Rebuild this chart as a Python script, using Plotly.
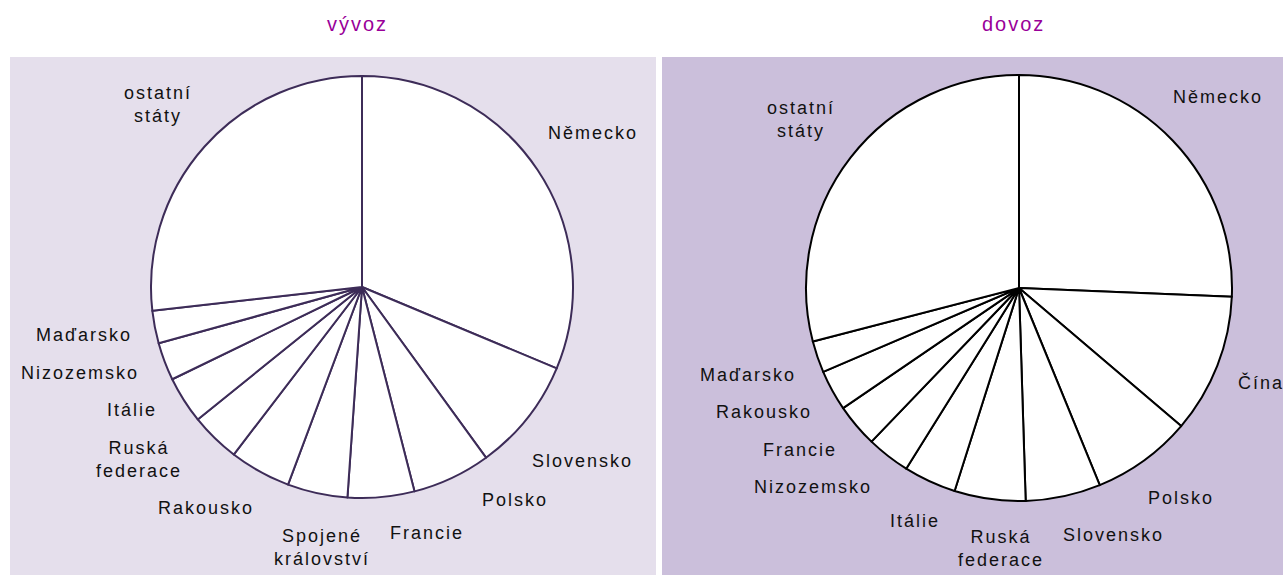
import math
import plotly.graph_objects as go

# ---- data ----
export_labels = ["Německo", "Slovensko", "Polsko", "Francie", "Spojené<br>království",
                 "Rakousko", "Ruská<br>federace", "Itálie", "Nizozemsko", "Maďarsko",
                 "ostatní<br>státy"]
export_values = [31.3, 8.7, 6.0, 5.1, 4.6, 4.7, 3.8, 3.6, 2.9, 2.5, 26.8]

import_labels = ["Německo", "Čína", "Polsko", "Slovensko", "Ruská<br>federace", "Itálie",
                 "Nizozemsko", "Francie", "Rakousko", "Maďarsko", "ostatní<br>státy"]
import_values = [25.7, 10.6, 7.6, 5.7, 5.4, 4.0, 3.3, 3.3, 3.1, 2.4, 29.1]

titles = ["vývoz", "dovoz"]

# ---- layout constants ----
W, H = 1283, 575
FONT = "Arial, Liberation Sans, sans-serif"
LABEL_SIZE = 18
SPACING = 2.0
LINE_H = 1.28 * LABEL_SIZE
GAP = 22
PAD_X, PAD_Y = 16, 14


def text_width(s):
    w = 0.0
    for ch in s:
        if ch in "iíjlIt":
            f = 0.25
        elif ch in "fr":
            f = 0.33
        elif ch in "mM":
            f = 0.83
        elif ch.isupper() or ch in "ČŘŠŽ":
            f = 0.69
        else:
            f = 0.55
        w += f * LABEL_SIZE + SPACING
    return w


panels = [
    dict(x0=10, x1=656, color="#e5dfec", cx=362, cy=287, r=211, line="#3d2c58", lw=2,
         labels=export_labels, values=export_values, title=titles[0], tx=357),
    dict(x0=662, x1=1283, color="#cbbfdb", cx=1019, cy=288, r=213, line="#000000", lw=2,
         labels=import_labels, values=import_values, title=titles[1], tx=1013),
]

fig = go.Figure()
shapes = []
annotations = []

for p in panels:
    shapes.append(dict(type="rect", xref="paper", yref="paper", layer="below",
                       x0=p["x0"] / W, x1=p["x1"] / W, y0=0, y1=1 - 57 / H,
                       fillcolor=p["color"], line=dict(width=0)))
    cx, cy, r = p["cx"], p["cy"], p["r"]
    fig.add_trace(go.Pie(
        labels=[l.replace("<br>", " ") for l in p["labels"]],
        values=p["values"], sort=False, direction="clockwise", rotation=0,
        textinfo="none", hoverinfo="label+percent",
        marker=dict(colors=["#ffffff"] * len(p["values"]),
                    line=dict(color=p["line"], width=p["lw"])),
        domain=dict(x=[(cx - r) / W, (cx + r) / W],
                    y=[(H - cy - r) / H, (H - cy + r) / H]),
        showlegend=False,
    ))

    # label boxes placed around the pie from the slice mid angles
    total = sum(p["values"])
    cum = 0.0
    items = []
    for lab, v in zip(p["labels"], p["values"]):
        mid = (cum + v / 2) / total * 2 * math.pi
        cum += v
        lines = lab.split("<br>")
        items.append(dict(t=mid, w=max(text_width(s) for s in lines),
                          h=len(lines) * LINE_H, lab=lab))

    def place(it):
        sx, sy = math.sin(it["t"]), -math.cos(it["t"])
        d = r + GAP + abs(sx) * it["w"] / 2 + abs(sy) * it["h"] / 2
        return cx + d * sx, cy + d * sy

    # spread crowded labels apart along the circle
    step = math.radians(0.25)
    for _ in range(800):
        moved = False
        for i in range(len(items) - 1):
            a, b = items[i], items[i + 1]
            ax, ay = place(a)
            bx, by = place(b)
            ox = (a["w"] + b["w"]) / 2 + PAD_X - abs(ax - bx)
            oy = (a["h"] + b["h"]) / 2 + PAD_Y - abs(ay - by)
            if ox > 0 and oy > 0:
                a["t"] -= step
                b["t"] += step
                moved = True
        if not moved:
            break

    for it in items:
        px, py = place(it)
        annotations.append(dict(x=px / W, y=1 - py / H, xref="paper", yref="paper",
                                text=it["lab"], showarrow=False, xanchor="center",
                                yanchor="middle", align="center",
                                font=dict(family=FONT, size=LABEL_SIZE, color="#111111")))
    annotations.append(dict(x=p["tx"] / W, y=1 - 24 / H, xref="paper", yref="paper",
                            text=p["title"], showarrow=False, xanchor="center",
                            yanchor="middle",
                            font=dict(family=FONT, size=20, color="#990099")))

fig.update_layout(width=W, height=H, margin=dict(l=0, r=0, t=0, b=0),
                  paper_bgcolor="#ffffff", plot_bgcolor="#ffffff",
                  shapes=shapes, annotations=annotations)

post = """
var gd = document.getElementById('{plot_id}');
function fixup() {
  document.body.style.margin = '0';
  document.body.style.overflow = 'hidden';
  gd.querySelectorAll('.annotation-text').forEach(function (t) {
    t.style.letterSpacing = '2px';
  });
}
fixup();
gd.on('plotly_afterplot', fixup);
"""

fig.write_html("out.html", post_script=post, config={"displayModeBar": False})
